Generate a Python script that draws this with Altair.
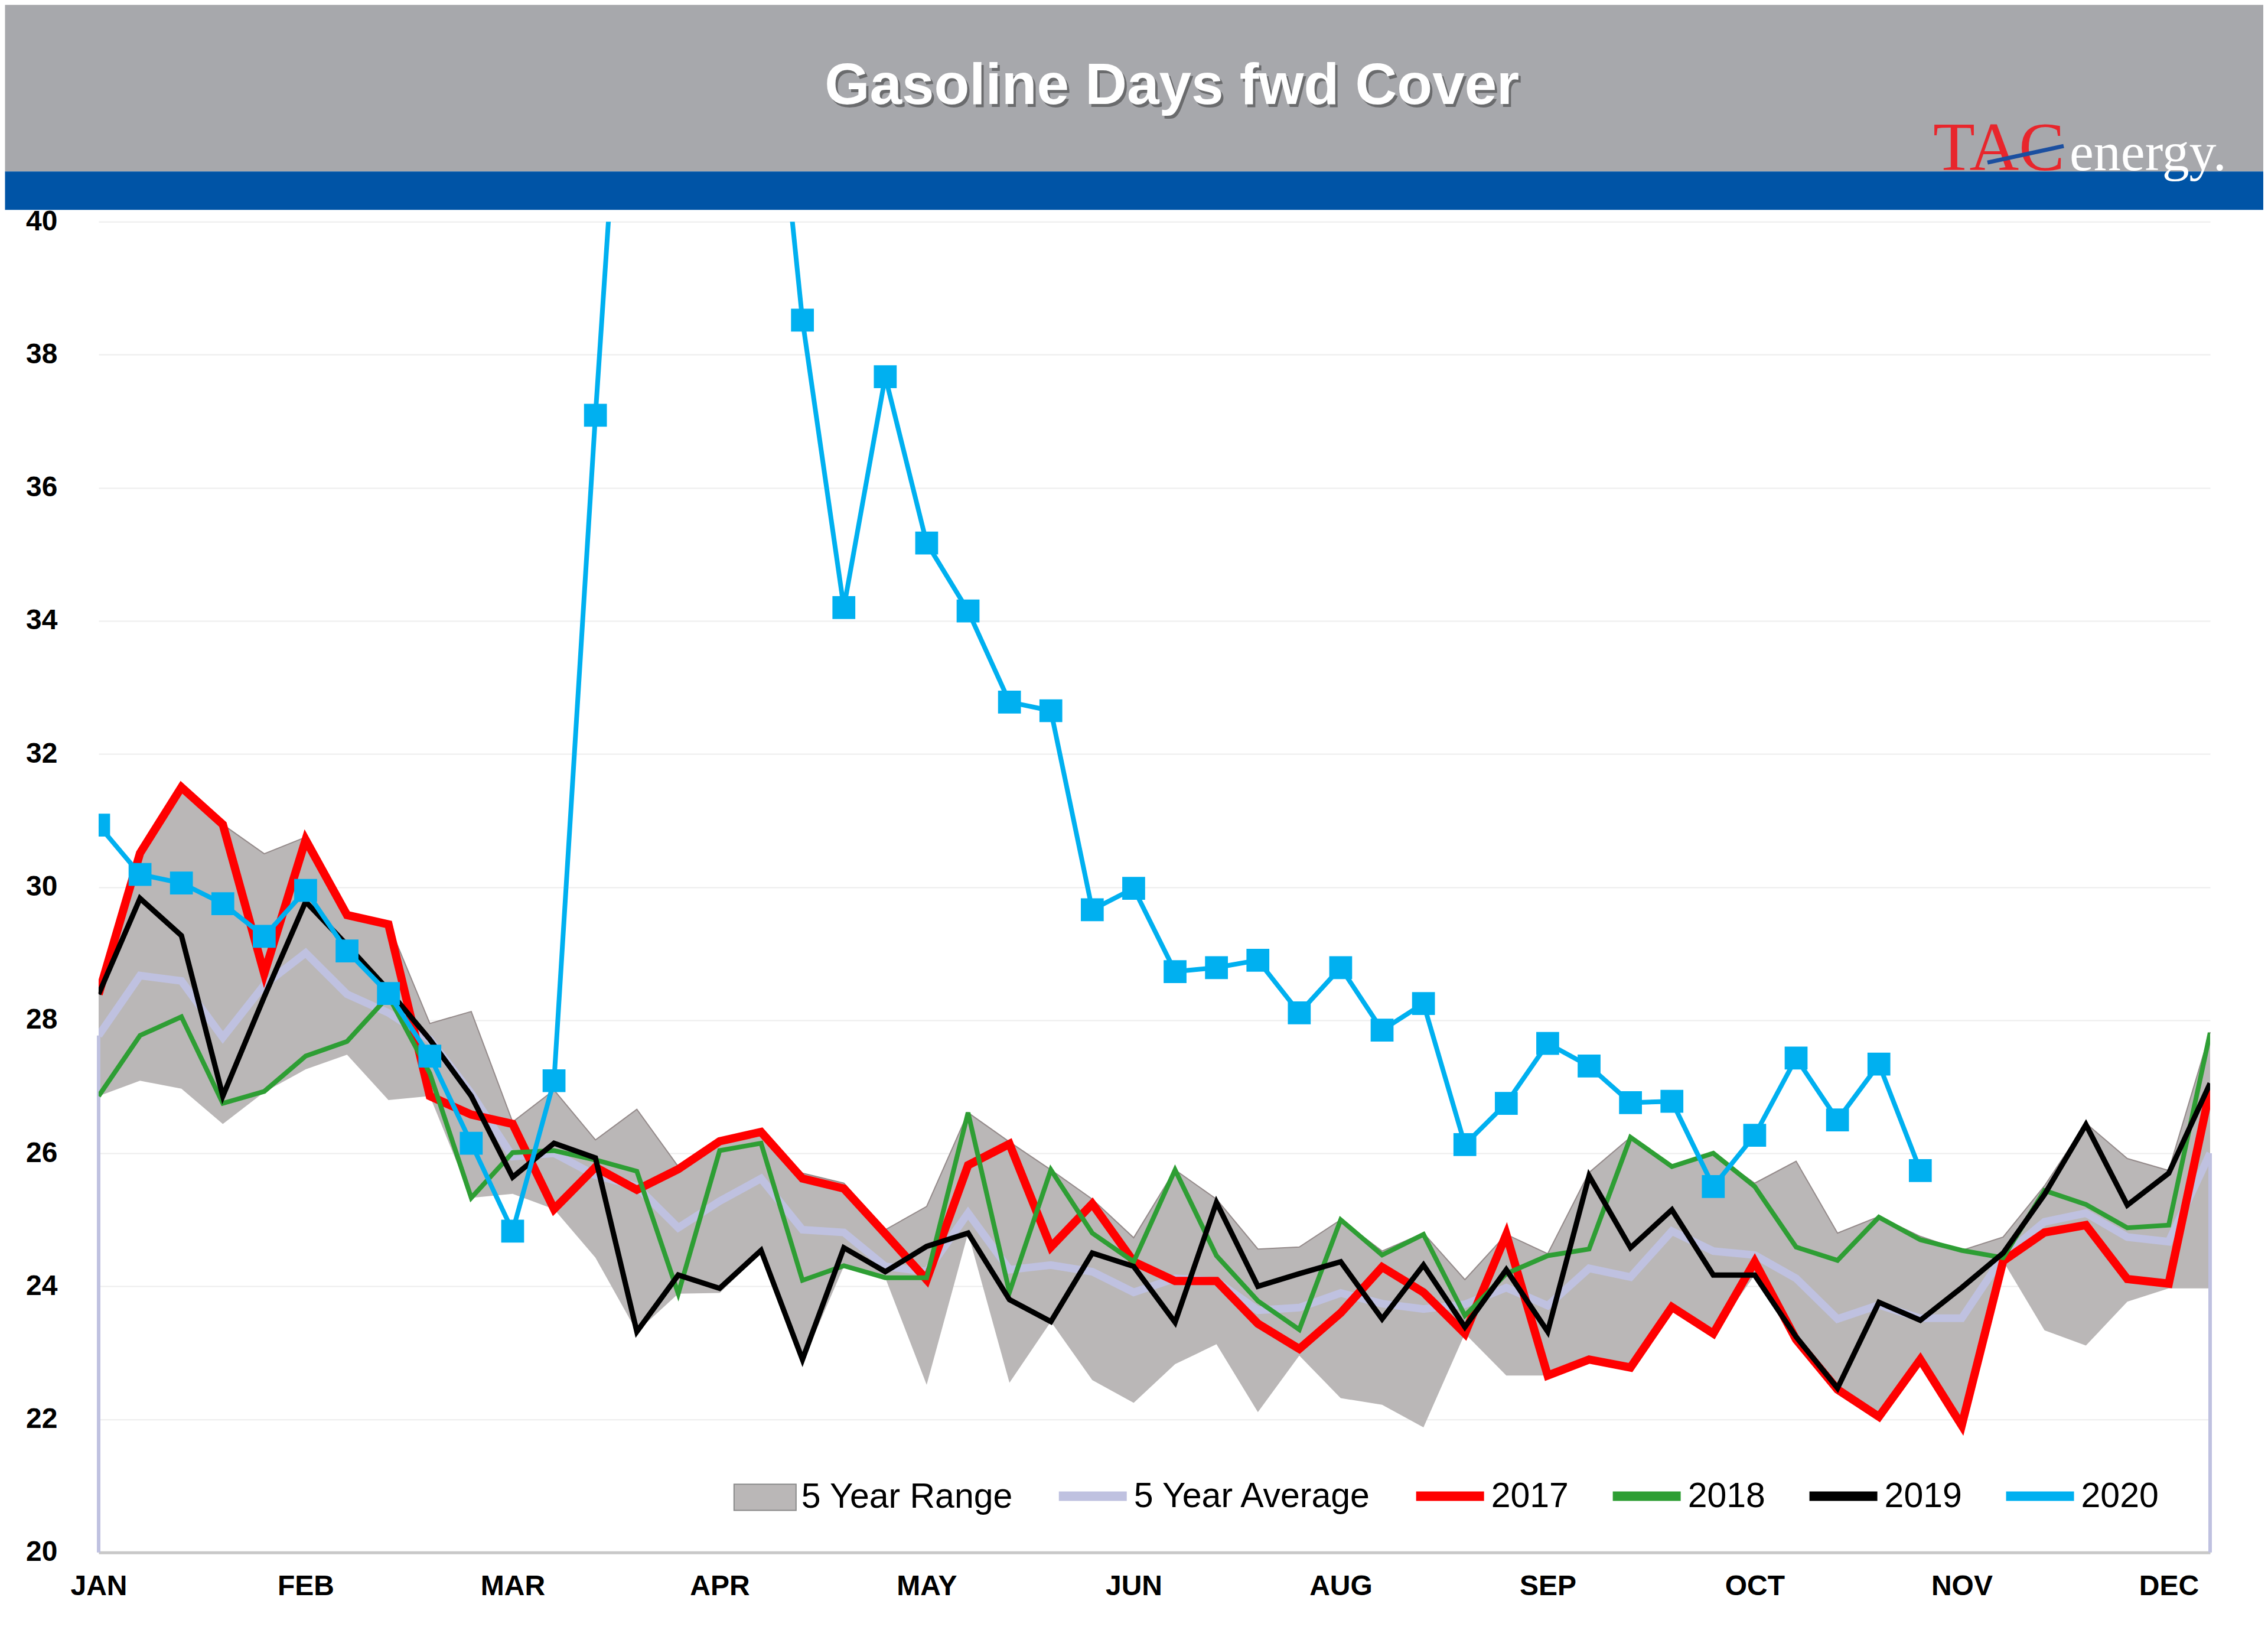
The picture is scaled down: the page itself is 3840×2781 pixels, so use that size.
import altair as alt
import pandas as pd

# ---------------- data ----------------
weeks = list(range(52))
month_ticks = [0, 5, 10, 15, 20, 25, 30, 35, 40, 45, 50]
month_labels = ["JAN", "FEB", "MAR", "APR", "MAY", "JUN", "AUG", "SEP", "OCT", "NOV", "DEC"]

range_high = [28.4, 30.55, 31.5, 30.94, 30.5, 30.75, 29.6, 29.45, 27.95, 28.13, 26.47, 26.95,
              26.2, 26.66, 25.8, 26.18, 26.32, 25.7, 25.55, 24.85, 25.2, 26.61, 26.17, 25.75,
              25.31, 24.73, 25.75, 25.31, 24.56, 24.59, 25.0, 24.53, 24.8, 24.1, 24.78, 24.49,
              25.71, 26.24, 25.8, 26.0, 25.55, 25.88, 24.8, 25.05, 24.75, 24.54, 24.74, 25.51,
              26.45, 25.92, 25.74, 27.82]
range_low = [26.86, 27.09, 26.97, 26.44, 26.92, 27.26, 27.48, 26.8, 26.86, 25.33, 25.39, 25.16,
             24.43, 23.32, 23.89, 23.9, 24.5, 22.86, 24.3, 24.13, 22.52, 24.8, 22.55, 23.47,
             22.59, 22.25, 22.83, 23.13, 22.11, 22.96, 22.32, 22.22, 21.88, 23.29, 22.66, 22.66,
             22.9, 22.78, 23.69, 23.29, 24.17, 23.2, 22.45, 22.02, 22.9, 21.91, 24.38, 23.34,
             23.11, 23.77, 23.97, 23.97]
avg5 = [27.77, 28.67, 28.59, 27.74, 28.53, 29.01, 28.39, 28.11, 27.71, 26.9, 25.95, 26.0,
        25.67, 25.5, 24.88, 25.28, 25.62, 24.85, 24.81, 24.3, 24.22, 25.1, 24.25, 24.32,
        24.22, 23.91, 24.12, 24.08, 23.64, 23.68, 23.9, 23.74, 23.66, 23.73, 23.98, 23.71,
        24.27, 24.14, 24.83, 24.53, 24.47, 24.12, 23.51, 23.72, 23.52, 23.52, 24.45, 24.97,
        25.1, 24.74, 24.67, 26.0]
y2017 = [28.39, 30.51, 31.5, 30.94, 28.7, 30.71, 29.58, 29.44, 26.86, 26.58, 26.44, 25.16,
         25.79, 25.45, 25.76, 26.18, 26.32, 25.62, 25.47, 24.79, 24.1, 25.82, 26.14, 24.59,
         25.24, 24.37, 24.08, 24.08, 23.44, 23.06, 23.6, 24.29, 23.91, 23.29, 24.78, 22.66,
         22.9, 22.78, 23.69, 23.29, 24.37, 23.2, 22.45, 22.04, 22.9, 21.91, 24.38, 24.81,
         24.92, 24.11, 24.04, 26.96]
y2018 = [26.86, 27.77, 28.05, 26.75, 26.93, 27.46, 27.68, 28.36, 27.2, 25.33, 26.01, 26.04,
         25.9, 25.73, 23.89, 26.04, 26.15, 24.09, 24.31, 24.13, 24.13, 26.61, 23.91, 25.75,
         24.8, 24.37, 25.75, 24.46, 23.78, 23.35, 25.0, 24.47, 24.78, 23.56, 24.19, 24.46,
         24.56, 26.24, 25.8, 26.0, 25.5, 24.59, 24.39, 25.04, 24.7, 24.54, 24.43, 25.44,
         25.23, 24.88, 24.92, 27.81]
y2019 = [28.39, 29.83, 29.27, 26.86, 28.35, 29.78, 29.13, 28.45, 27.71, 26.86, 25.64, 26.15,
         25.93, 23.32, 24.17, 23.97, 24.54, 22.9, 24.58, 24.22, 24.6, 24.8, 23.8, 23.47,
         24.5, 24.3, 23.46, 25.26, 24.0, 24.19, 24.37, 23.51, 24.32, 23.39, 24.25, 23.32,
         25.66, 24.58, 25.15, 24.17, 24.17, 23.24, 22.47, 23.76, 23.49, 23.98, 24.5, 25.38,
         26.43, 25.22, 25.7, 27.05]
y2020 = [30.93, 30.19, 30.06, 29.75, 29.26, 29.95, 29.04, 28.4, 27.46, 26.15, 24.83, 27.09,
         37.09, 46.4, 51.0, 49.5, 44.6, 38.52, 34.2, 37.67, 35.17, 34.15, 32.78, 32.65,
         29.66, 29.98, 28.73, 28.79, 28.9, 28.11, 28.79, 27.85, 28.25, 26.13, 26.75, 27.65,
         27.31, 26.76, 26.78, 25.5, 26.27, 27.43, 26.5, 27.34, 25.74]

SERIES = ["5 Year Average", "2017", "2018", "2019", "2020"]
COLORS = ["#BFC1E0", "#FF0000", "#2E9E34", "#000000", "#00B0F0"]
WIDTHS = [13, 14, 8, 9, 8]

# ---------------- layout ----------------
W = 3575.5
H = 2253
LEFT = 158.5
TOP = 367
FONT = "Liberation Sans"

label_expr = "[" + ",".join("'%s'" % m for m in month_labels) + "][round(datum.value / 5)]"

x_scale = alt.Scale(domain=[0, 51], nice=False, zero=False)
y_scale = alt.Scale(domain=[20, 40], nice=False, zero=False)

x_axis = alt.Axis(values=month_ticks, labelExpr=label_expr, title=None, grid=False, ticks=False,
                  domainColor="#C8C8C8", domainWidth=5, labelPadding=34, labelFontSize=48,
                  labelFontWeight="bold", labelFont=FONT, labelColor="black", labelAngle=0,
                  labelFlush=False)
y_axis = alt.Axis(values=list(range(20, 41, 2)), title=None, domain=False, ticks=False,
                  labelPadding=70, labelFontSize=48, labelFontWeight="bold", labelFont=FONT,
                  labelColor="black", gridColor="#EDEDED", gridWidth=2, labelFlush=False)

x_enc = alt.X("week:Q", scale=x_scale, axis=x_axis)

stroke_enc = alt.Stroke(
    "series:N",
    scale=alt.Scale(domain=SERIES, range=COLORS),
    legend=alt.Legend(title=None, orient="none", legendX=1618, legendY=2092,
                      direction="horizontal", symbolType="stroke", symbolSize=115 * 115,
                      symbolStrokeWidth=16, labelFontSize=59, labelFont=FONT,
                      labelColor="black", columnPadding=42, labelOffset=4, labelLimit=0),
)

df_rng = pd.DataFrame({"week": weeks, "low": range_low, "high": range_high,
                       "rng": ["5 Year Range"] * len(weeks)})

area = alt.Chart(df_rng).mark_area(opacity=1).encode(
    x=x_enc,
    y=alt.Y("low:Q", scale=y_scale, axis=y_axis),
    y2="high:Q",
    fill=alt.Fill("rng:N", scale=alt.Scale(domain=["5 Year Range"], range=["#BAB7B7"]),
                  legend=alt.Legend(title=None, orient="none", legendX=1075, legendY=2106,
                                    symbolType="M-1,-0.42L1,-0.42L1,0.42L-1,0.42Z",
                                    symbolSize=105 * 105, symbolStrokeColor="#8A8A8A",
                                    symbolStrokeWidth=2, labelFontSize=59, labelFont=FONT,
                                    labelColor="black", labelOffset=8, labelLimit=0)),
)

upper_edge = alt.Chart(df_rng).mark_line(color="#948A8A", strokeWidth=2).encode(
    x=x_enc, y=alt.Y("high:Q", scale=y_scale, axis=y_axis))

df_edges = pd.DataFrame({"week": [weeks[0], weeks[-1]], "value": [avg5[0], avg5[-1]],
                         "base": [20, 20]})
drops = alt.Chart(df_edges).mark_rule(color="#BFC1E0", strokeWidth=6).encode(
    x=x_enc, y=alt.Y("value:Q", scale=y_scale, axis=y_axis), y2="base:Q")


def series_df(name, values):
    return pd.DataFrame({"week": weeks[:len(values)], "value": values,
                         "series": [name] * len(values)})


line_layers = []
for name, vals, w in zip(SERIES, [avg5, y2017, y2018, y2019, y2020], WIDTHS):
    line_layers.append(
        alt.Chart(series_df(name, vals)).mark_line(strokeWidth=w, clip=True,
                                                    strokeJoin="miter").encode(
            x=x_enc, y=alt.Y("value:Q", scale=y_scale, axis=y_axis), stroke=stroke_enc)
    )

pts = alt.Chart(series_df("2020", y2020)).mark_square(size=1500, color="#00B0F0", opacity=1,
                                                      clip=True).encode(
    x=x_enc, y=alt.Y("value:Q", scale=y_scale, axis=y_axis))

# ---------------- header decoration ----------------
one = pd.DataFrame({"k": [0]})
gray_band = alt.Chart(one).mark_rect(color="#A7A8AC").encode(
    x=alt.value(-LEFT), x2=alt.value(3824 - LEFT), y=alt.value(-TOP), y2=alt.value(-85))
blue_band = alt.Chart(one).mark_rect(color="#0054A6").encode(
    x=alt.value(-LEFT), x2=alt.value(3824 - LEFT), y=alt.value(-85), y2=alt.value(-20))
title_shadow = alt.Chart(one).mark_text(text="Gasoline Days fwd Cover", font=FONT, fontSize=98,
                                        fontWeight="bold", color="#3A3A3A", opacity=0.55,
                                        align="center", baseline="middle").encode(
    x=alt.value(1821.5), y=alt.value(-223))
title = alt.Chart(one).mark_text(text="Gasoline Days fwd Cover", font=FONT, fontSize=98,
                                 fontWeight="bold", color="white",
                                 align="center", baseline="middle").encode(
    x=alt.value(1817.5), y=alt.value(-228))
logo_tac = alt.Chart(one).mark_text(text="TAC", font="Liberation Serif", fontSize=116,
                                    color="#E8262C", align="left",
                                    baseline="alphabetic").encode(
    x=alt.value(3106.5), y=alt.value(-87))
logo_energy = alt.Chart(one).mark_text(text="energy.", font="Liberation Serif", fontSize=92,
                                       color="white", align="left",
                                       baseline="alphabetic").encode(
    x=alt.value(3337.5), y=alt.value(-87))
logo_slash = alt.Chart(one).mark_rule(color="#1B4FA0", strokeWidth=7).encode(
    x=alt.value(3198.5), x2=alt.value(3327.5), y=alt.value(-100), y2=alt.value(-128))

chart = alt.layer(
    area, upper_edge, drops, *line_layers, pts,
    gray_band, blue_band, title_shadow, title, logo_tac, logo_slash, logo_energy,
).properties(
    width=W, height=H, padding=0, background="white"
).configure_view(stroke=None)

chart.save("out.html", embed_options={"renderer": "svg", "actions": False})
